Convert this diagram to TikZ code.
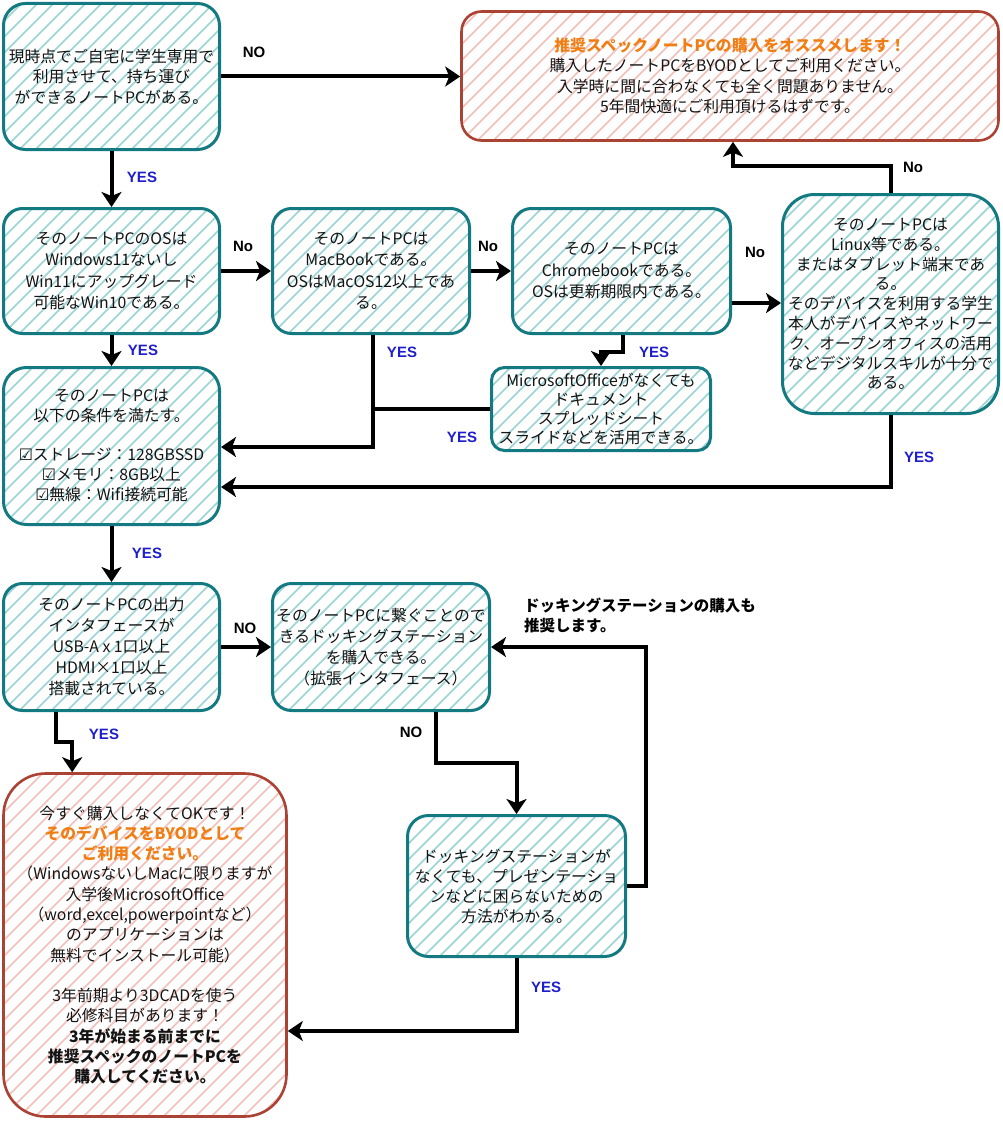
\documentclass[tikz,border=0pt]{standalone}
\usepackage{fontspec}
\setmainfont{Noto Sans CJK JP}
\newfontfamily\symfont{DejaVu Sans}
\newfontfamily\labfont{Liberation Sans}
\usetikzlibrary{arrows.meta,calc}
\definecolor{tealb}{RGB}{18,122,128}
\definecolor{tealh}{RGB}{155,212,212}
\definecolor{redb}{RGB}{172,66,52}
\definecolor{redh}{RGB}{242,192,188}
\definecolor{orng}{RGB}{240,126,20}
\definecolor{yesblue}{RGB}{30,30,205}
\definecolor{txt}{RGB}{20,20,20}
\tikzset{
  hatchfill/.style={path picture={
    \foreach \k in {-368,-352,...,560}{
      \draw[line width=1.6pt,#1] ([xshift=\k pt]path picture bounding box.south west) -- ++(400pt,400pt);
    }}},
  tbox/.style={draw=tealb, line width=3pt, fill=white, hatchfill=tealh,
    rounded corners=#1, align=center, inner sep=0pt, text=txt,
    font=\fontsize{15.8}{20.5}\selectfont},
  tbox/.default=22pt,
  rbox/.style={draw=redb, line width=2.6pt, fill=white, hatchfill=redh,
    rounded corners=#1, align=center, inner sep=0pt, text=txt,
    font=\fontsize{15.8}{20.5}\selectfont},
  rbox/.default=20pt,
  arr/.style={line width=4pt, -{Stealth[length=15pt,width=20pt,inset=4pt]}},
  plain/.style={line width=4pt},
  lbl/.style={font=\labfont\bfseries\fontsize{15}{17}\selectfont, text=black, inner sep=0pt},
  ylbl/.style={lbl, text=yesblue},
}
\begin{document}
\begin{tikzpicture}[x=1pt,y=-1pt]
\useasboundingbox (0,0) rectangle (1003,1121);

% boxes
\node[tbox, minimum width=216pt, minimum height=146pt] (A) at (111.5,76.5)
  {現時点でご自宅に学生専用で\\利用させて、持ち運び\\ができるノートPCがある。};
\node[rbox=20pt, minimum width=537pt, minimum height=129pt] (B) at (730,76)
  {\textcolor{orng}{\bfseries 推奨スペックノートPCの購入をオススメします！}\\購入したノートPCをBYODとしてご利用ください。\\入学時に間に合わなくても全く問題ありません。\\5年間快適にご利用頂けるはずです。};
\node[tbox=19pt, minimum width=216pt, minimum height=125pt, font=\fontsize{15.8}{21.5}\selectfont] (C) at (111.5,271)
  {そのノートPCのOSは\\Windows11ないし\\Win11にアップグレード\\可能なWin10である。};
\node[tbox=19pt, minimum width=197pt, minimum height=125pt, font=\fontsize{15.8}{21.5}\selectfont] (D) at (371,271)
  {そのノートPCは\\MacBookである。\\OSはMacOS12以上であ\\る。};
\node[tbox=19pt, minimum width=218pt, minimum height=125pt, font=\fontsize{15.8}{21.5}\selectfont] (E) at (621.5,271)
  {そのノートPCは\\Chromebookである。\\OSは更新期限内である。};
\node[tbox=32pt, minimum width=216pt, minimum height=219pt, font=\fontsize{15.8}{19.8}\selectfont] (F) at (890.5,304)
  {そのノートPCは\\Linux等である。\\またはタブレット端末であ\\る。\\そのデバイスを利用する学生\\本人がデバイスやネットワー\\ク、オープンオフィスの活用\\などデジタルスキルが十分で\\ある。};
\node[tbox=13pt, minimum width=219pt, minimum height=83pt, font=\fontsize{15.8}{19}\selectfont] (G) at (601,409)
  {MicrosoftOfficeがなくても\\ドキュメント\\スプレッドシート\\スライドなどを活用できる。};
\node[tbox=23pt, minimum width=216pt, minimum height=157pt, font=\fontsize{15.8}{20}\selectfont] (H) at (111.5,446)
  {そのノートPCは\\以下の条件を満たす。\\[19pt]{\symfont ☑}ストレージ：128GBSSD\\{\symfont ☑}メモリ：8GB以上\\{\symfont ☑}無線：Wifi接続可能};
\node[tbox=19pt, minimum width=216pt, minimum height=127pt, font=\fontsize{15.8}{21}\selectfont] (I) at (111.5,647)
  {そのノートPCの出力\\インタフェースが\\USB-A x 1口以上\\HDMI×1口以上\\搭載されている。};
\node[tbox=19pt, minimum width=217pt, minimum height=127pt, font=\fontsize{15.8}{21}\selectfont] (J) at (381,647)
  {そのノートPCに繋ぐことので\\きるドッキングステーション\\を購入できる。\\（拡張インタフェース）};
\node[rbox=42pt, minimum width=283pt, minimum height=343pt, font=\fontsize{15.8}{20.3}\selectfont] (K) at (145,945)
  {今すぐ購入しなくてOKです！\\\textcolor{orng}{\bfseries そのデバイスをBYODとして}\\\textcolor{orng}{\bfseries ご利用ください。}\\（WindowsないしMacに限りますが\\入学後MicrosoftOffice\\（word,excel,powerpointなど）\\のアプリケーションは\\無料でインストール可能）\\[20pt]3年前期より3DCADを使う\\必修科目があります！\\{\bfseries 3年が始まる前までに}\\{\bfseries 推奨スペックのノートPCを}\\{\bfseries 購入してください。}};
\node[tbox=21pt, minimum width=218pt, minimum height=141pt, font=\fontsize{15.8}{20}\selectfont] (L) at (516.5,886)
  {ドッキングステーションが\\なくても、プレゼンテーショ\\ンなどに困らないための\\方法がわかる。};

% helper coordinates
\coordinate (e1) at ($(E.east)+(0,32)$);
\coordinate (b1) at ($(B.south)+(3,0)$);
\coordinate (d1) at ($(D.south)+(2,0)$);
\coordinate (h1) at ($(H.east)+(0,1)$);
\coordinate (h2) at ($(H.east)+(0,41)$);
\coordinate (g1) at ($(G.west)+(-117,0)$);
\coordinate (e2) at ($(E.south)+(1,0)$);
\coordinate (i1) at ($(I.south west)+(53.5,0)$);
\coordinate (k1) at ($(K.north west)+(70,0)$);
\coordinate (j1) at ($(J.south)+(55,0)$);
\coordinate (k2) at ($(K.east)+(0,86)$);

% connectors
\draw[arr] (A.east) -- (A.east -| B.west);
\draw[arr] (A.south) -- (C.north);
\draw[arr] (C.east) -- (D.west);
\draw[arr] (D.east) -- (E.west);
\draw[arr] (e1) -- (e1 -| F.west);
\draw[arr] (F.north) -- ++(0,-27) -| (b1);
\draw[arr] (C.south) -- (H.north);
\draw[arr] (d1) |- (h1);
\draw[plain] (G.west) -- (g1);
\draw[arr] (e2) -- ++(0,17) -| (G.north);
\draw[arr] (F.south) |- (h2);
\draw[arr] (H.south) -- (I.north);
\draw[arr] (I.east) -- (J.west);
\draw[arr] (i1) -- ++(0,30) -| (k1);
\draw[arr] (j1) -- ++(0,51) -| (L.north);
\draw[arr] (L.east) -- ++(19,0) |- (J.east);
\draw[arr] (L.south) |- (k2);

% labels
\node[lbl] (l1) at (254,52) {NO};
\node[ylbl] (l2) at (142,177) {YES};
\node[lbl] (l3) at (243,246) {No};
\node[lbl] (l4) at (488,246) {No};
\node[lbl] (l5) at (755,252) {No};
\node[lbl] (l6) at (913,167) {No};
\node[ylbl] (l7) at (143,350) {YES};
\node[ylbl] (l8) at (402,352) {YES};
\node[ylbl] (l9) at (654,352) {YES};
\node[ylbl] (l10) at (462,437) {YES};
\node[ylbl] (l11) at (919,457) {YES};
\node[ylbl] (l12) at (147,553) {YES};
\node[lbl] (l13) at (245,628) {NO};
\node[ylbl] (l14) at (104,734) {YES};
\node[lbl] (l15) at (411,732) {NO};
\node[ylbl] (l16) at (546,987) {YES};
\node[anchor=north west, align=left, inner sep=0pt, font=\bfseries\fontsize{15.5}{20}\selectfont] (note) at (524,598)
  {ドッキングステーションの購入も\\推奨します。};
\end{tikzpicture}
\end{document}
